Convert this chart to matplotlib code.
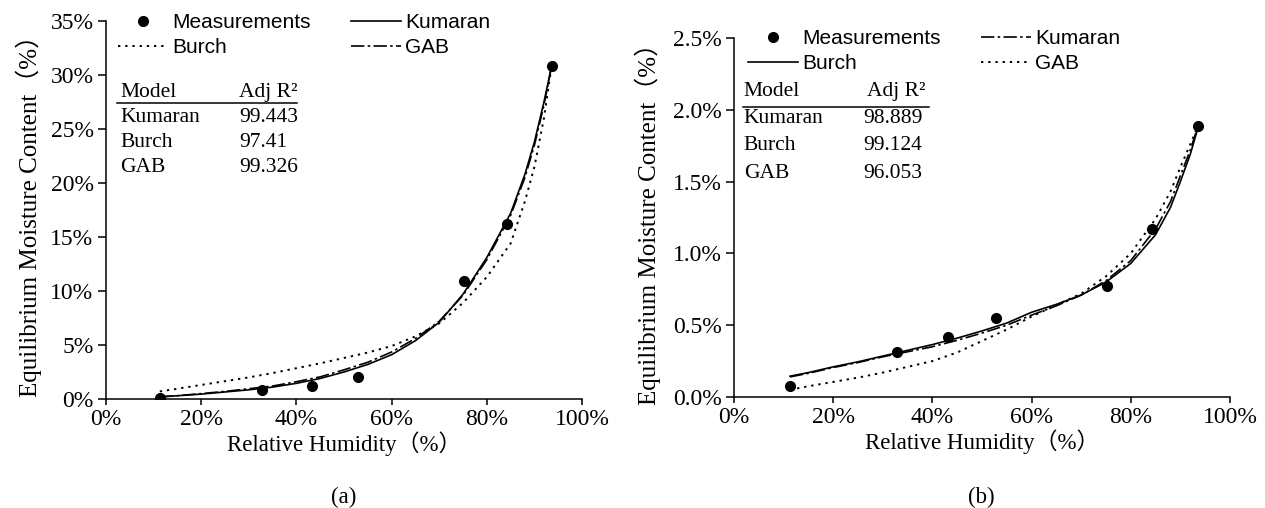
"""
Sorption isotherms for two materials: measured EMC vs relative humidity
with Kumaran, Burch and GAB model curves, panels (a) and (b).
"""

import matplotlib
matplotlib.use('Agg')
import matplotlib.pyplot as plt
from matplotlib.ticker import PercentFormatter, MultipleLocator

# --- data ---
rh_meas = [11.3, 32.8, 43.2, 52.9, 75.3, 84.3, 93.6]
emc_a_meas = [0.1, 0.8, 1.2, 2.0, 10.9, 16.2, 30.8]
emc_b_meas = [0.077, 0.31, 0.42, 0.55, 0.77, 1.17, 1.89]

rh_fit = [11.3, 15, 20, 25, 30, 35, 40, 45, 50, 55, 60, 65, 70, 75, 80, 85, 88, 90, 92, 93.6]

# panel (a) model curves
kumaran_a = [0.2, 0.3, 0.45, 0.65, 0.85, 1.1, 1.45, 1.9, 2.5, 3.2, 4.1, 5.4, 7.1, 9.7,
             13.1, 17.2, 20.8, 23.8, 27.5, 30.8]
burch_a = [0.7, 0.95, 1.3, 1.65, 2.0, 2.4, 2.85, 3.3, 3.8, 4.3, 4.9, 5.8, 7.0, 8.9,
           11.3, 14.4, 18.3, 21.5, 26.0, 30.8]
gab_a = [0.2, 0.3, 0.5, 0.7, 0.95, 1.2, 1.6, 2.05, 2.7, 3.4, 4.35, 5.6, 7.2, 9.6,
         12.9, 17.0, 20.5, 23.5, 27.2, 30.8]

# panel (b) model curves
kumaran_b = [0.14, 0.165, 0.205, 0.24, 0.28, 0.315, 0.35, 0.395, 0.445, 0.5, 0.57, 0.635,
             0.71, 0.81, 0.95, 1.17, 1.36, 1.54, 1.72, 1.89]
burch_b = [0.145, 0.17, 0.21, 0.245, 0.285, 0.325, 0.365, 0.41, 0.46, 0.515, 0.59, 0.645,
           0.71, 0.80, 0.93, 1.13, 1.32, 1.50, 1.69, 1.88]
gab_b = [0.05, 0.075, 0.105, 0.135, 0.17, 0.21, 0.25, 0.31, 0.39, 0.47, 0.56, 0.64,
         0.72, 0.84, 1.0, 1.24, 1.43, 1.60, 1.76, 1.89]

models = ['Kumaran', 'Burch', 'GAB']
adj_r2_a = ['99.443', '97.41', '99.326']
adj_r2_b = ['98.889', '99.124', '96.053']

SERIF = ['Liberation Serif', 'Noto Sans CJK SC']
SANS = 'Liberation Sans'
DOT = (0, (1.2, 2.5))
DASHDOT = (0, (8, 2, 1.5, 2))
LW = 1.2

plt.rcParams['font.family'] = SERIF
plt.rcParams['axes.linewidth'] = 1.1


def style_axes(ax, ymax, ystep, ydec):
    ax.set_xlim(0, 100)
    ax.set_ylim(0, ymax)
    ax.xaxis.set_major_locator(MultipleLocator(20))
    ax.yaxis.set_major_locator(MultipleLocator(ystep))
    ax.xaxis.set_major_formatter(PercentFormatter(decimals=0))
    ax.yaxis.set_major_formatter(PercentFormatter(decimals=ydec))
    for side in ('top', 'right'):
        ax.spines[side].set_visible(False)
    ax.tick_params(axis='x', length=4.5, width=1.1, pad=3, labelsize=17)
    ax.tick_params(axis='y', length=6, width=1.1, pad=3, labelsize=17)
    ax.set_xlabel('Relative Humidity（%）', fontsize=16.5, labelpad=1)


def draw_table(ax, values, x_model, x_val, x_hdr, y_rows, y_line, x_line):
    kw = dict(transform=ax.transAxes, fontsize=15.5, va='center', ha='left')
    ax.text(x_model, y_rows[0], 'Model', **kw)
    ax.text(x_hdr, y_rows[0], 'Adj R²', **kw)
    for name, val, y in zip(models, values, y_rows[1:]):
        ax.text(x_model, y, name, **kw)
        ax.text(x_val, y, val, **kw)
    ax.plot(x_line, [y_line, y_line], color='black', lw=1.1,
            transform=ax.transAxes, clip_on=False)


def add_legend(ax, y_top, x_left):
    h, l = ax.get_legend_handles_labels()
    order = [l.index(n) for n in ['Measurements', 'Burch', 'Kumaran', 'GAB']]
    ax.legend([h[i] for i in order], [l[i] for i in order], ncol=2, loc='upper left',
              bbox_to_anchor=(x_left, y_top), frameon=False, borderpad=0,
              borderaxespad=0, handlelength=2.4, handletextpad=0.2,
              columnspacing=1.95, labelspacing=0.3, numpoints=1,
              prop={'family': SANS, 'size': 15})


fig = plt.figure(figsize=(12.65, 5.08), dpi=100)
ax_a = fig.add_axes([0.0838, 0.2146, 0.3763, 0.7441])
ax_b = fig.add_axes([0.5802, 0.2185, 0.3921, 0.7067])

# ---- panel (a) ----
ax_a.plot(rh_meas, emc_a_meas, 'o', color='black', ms=7, zorder=5, label='Measurements')
ax_a.plot(rh_fit, burch_a, color='black', lw=1.4, ls=DOT, label='Burch')
ax_a.plot(rh_fit, kumaran_a, color='black', lw=LW, ls='-', label='Kumaran')
ax_a.plot(rh_fit, gab_a, color='black', lw=LW, ls=DASHDOT, label='GAB')
style_axes(ax_a, 35, 5, 0)
ax_a.set_ylabel('Equilibrium Moisture Content（%）', fontsize=18, labelpad=6)
add_legend(ax_a, 1.021, 0.025)
draw_table(ax_a, adj_r2_a, 0.030, 0.279, 0.279,
           [0.812, 0.745, 0.679, 0.613], 0.783, [0.023, 0.401])

# ---- panel (b) ----
ax_b.plot(rh_meas, emc_b_meas, 'o', color='black', ms=7, zorder=5, label='Measurements')
ax_b.plot(rh_fit, burch_b, color='black', lw=LW, ls='-', label='Burch')
ax_b.plot(rh_fit, kumaran_b, color='black', lw=LW, ls=DASHDOT, label='Kumaran')
ax_b.plot(rh_fit, gab_b, color='black', lw=1.4, ls=DOT, label='GAB')
style_axes(ax_b, 2.5, 0.5, 1)
ax_b.set_ylabel('Equilibrium Moisture Content（%）', fontsize=18, labelpad=8)
add_legend(ax_b, 1.025, 0.028)
draw_table(ax_b, adj_r2_b, 0.020, 0.260, 0.268,
           [0.850, 0.775, 0.700, 0.622], 0.808, [0.018, 0.393])

# panel captions
fig.text(0.272, 0.0217, '(a)', ha='center', va='center', fontsize=16.5)
fig.text(0.776, 0.0217, '(b)', ha='center', va='center', fontsize=16.5)

fig.savefig('out.png', dpi=100)
